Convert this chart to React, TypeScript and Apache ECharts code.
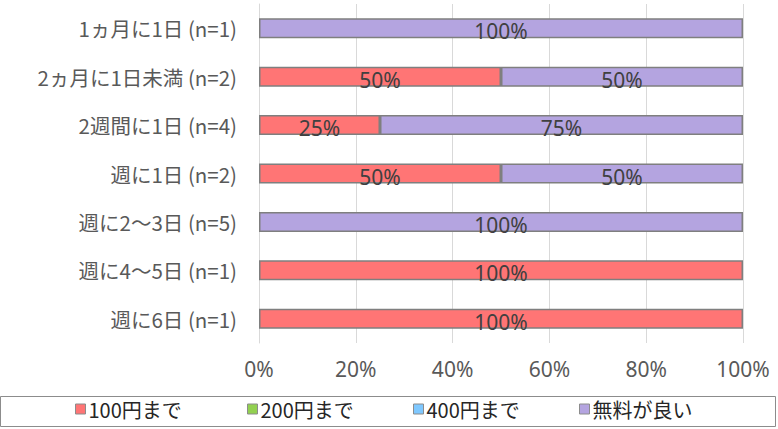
import React, { useEffect, useRef } from "react";
import * as echarts from "echarts";

const categories = [
  "1ヵ月に1日 (n=1)",
  "2ヵ月に1日未満 (n=2)",
  "2週間に1日 (n=4)",
  "週に1日 (n=2)",
  "週に2〜3日 (n=5)",
  "週に4〜5日 (n=1)",
  "週に6日 (n=1)",
];
const seriesNames = ["100円まで", "200円まで", "400円まで", "無料が良い"];
const v100 = [0, 50, 25, 50, 0, 100, 100];
const v200 = [0, 0, 0, 0, 0, 0, 0];
const v400 = [0, 0, 0, 0, 0, 0, 0];
const vFree = [100, 50, 75, 50, 100, 0, 0];
const xTicks = [0, 20, 40, 60, 80, 100];
const colors = ["#FF7575", "#92D050", "#7FC8FF", "#B4A4E0"];

const FONT = "'Noto Sans CJK JP', 'Noto Sans', sans-serif";
const LATIN = "'Noto Sans', 'Noto Sans CJK JP', sans-serif";

export default function App() {
  const ref = useRef<HTMLDivElement>(null);
  useEffect(() => {
    if (!ref.current) return;
    const chart = echarts.init(ref.current, undefined, { renderer: "svg" });
    const data = [v100, v200, v400, vFree];
    const legendLefts = [75, 247, 413, 579];
    chart.setOption({
      animation: false,
      textStyle: { fontFamily: FONT },
      grid: { left: 259, right: 35, top: 4, bottom: 86, containLabel: false },
      xAxis: {
        type: "value",
        min: xTicks[0],
        max: xTicks[xTicks.length - 1],
        interval: 20,
        axisLine: { show: false },
        axisTick: { show: false },
        splitLine: { show: true, lineStyle: { color: "#D9D9D9", width: 1 } },
        axisLabel: {
          formatter: (v: number) => v + "%",
          color: "#595959",
          fontSize: 21,
          margin: 15,
          fontFamily: LATIN,
        },
      },
      yAxis: {
        type: "category",
        data: categories,
        inverse: true,
        axisLine: { show: true, lineStyle: { color: "#D9D9D9" } },
        axisTick: { show: false },
        axisLabel: { color: "#595959", fontSize: 20.5, margin: 22, fontFamily: FONT },
      },
      legend: seriesNames.map((n, i) => ({
        data: [n],
        left: legendLefts[i],
        top: 399,
        icon: "rect",
        itemWidth: 10,
        itemHeight: 10,
        itemGap: 4,
        padding: 0,
        textStyle: { color: "#262626", fontSize: 20, fontFamily: FONT, padding: [0, 0, 0, -2] },
        itemStyle: { borderColor: "#8C8C8C", borderWidth: 1 },
        selectedMode: false,
      })),
      graphic: [
        {
          type: "rect",
          shape: { x: 0.5, y: 396.5, width: 775, height: 30 },
          style: { fill: "none", stroke: "#8C8C8C", lineWidth: 1 },
          silent: true,
        },
      ],
      series: seriesNames.map((n, i) => ({
        name: n,
        type: "bar",
        stack: "total",
        data: data[i].map((v) => (v > 0 ? v : "-")),
        barWidth: 20,
        itemStyle: { color: colors[i], borderColor: "#7F7F7F", borderWidth: 1.5 },
        label: {
          show: true,
          position: "inside",
          color: "#404040",
          fontSize: 21,
          fontFamily: LATIN,
          offset: [0, 3],
          formatter: (p: any) => p.value + "%",
        },
      })),
    });
    return () => chart.dispose();
  }, []);
  return (
    <div
      ref={ref}
      style={{ position: "fixed", left: 0, top: 0, width: 778, height: 429, background: "#fff" }}
    />
  );
}
